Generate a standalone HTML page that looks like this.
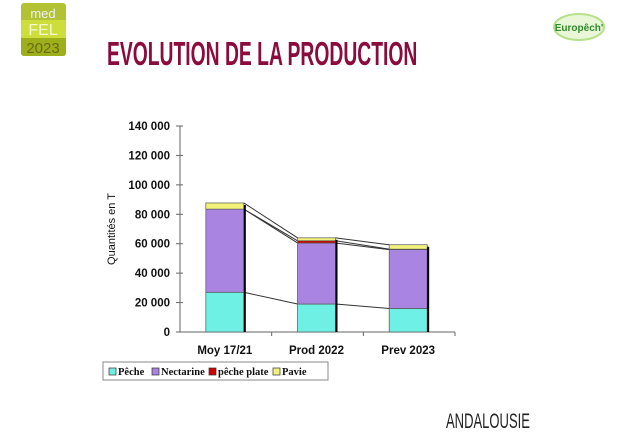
<!DOCTYPE html>
<html><head><meta charset="utf-8">
<style>
body{margin:0;width:625px;height:447px;background:#fff;overflow:hidden;position:relative;font-family:"Liberation Sans",sans-serif}
.logo{position:absolute;left:21px;top:3px;width:45px;height:53px;border-radius:3px;overflow:hidden}
.title{position:absolute;left:107px;top:35px;font-family:"Liberation Sans",sans-serif;font-weight:bold;font-size:33px;color:#8a0b3c;transform:scaleX(0.585);transform-origin:left top;white-space:nowrap}
.and{position:absolute;left:446px;top:410px;font-size:21px;color:#222;font-family:"Liberation Sans",sans-serif;transform:scaleX(0.62);transform-origin:left top;white-space:nowrap}
</style></head><body>
<div class="logo">
<svg width="45" height="53"><rect width="45" height="53" fill="#b3c233"/><rect y="17" width="45" height="18" fill="#cddd3c"/><rect y="35" width="45" height="18" fill="#9eaf1c"/>
<text x="22" y="15" font-size="13" fill="#eef" text-anchor="middle" font-family="Liberation Sans">med</text>
<text x="22" y="32" font-size="16" fill="#f4f8d0" text-anchor="middle" font-family="Liberation Sans">FEL</text>
<text x="22" y="50" font-size="15" fill="#6b6b10" text-anchor="middle" font-family="Liberation Sans">2023</text></svg></div>
<svg style="position:absolute;left:552px;top:10px" width="56" height="32"><ellipse cx="27" cy="17" rx="25" ry="13" fill="#eaf6d8" stroke="#b6e08a" stroke-width="2"/><text x="27" y="21" font-size="10" fill="#2f8a2a" text-anchor="middle" font-weight="bold">Europêch'</text></svg>
<div class="title">EVOLUTION DE LA PRODUCTION</div>
<div class="and">ANDALOUSIE</div>
<svg id="chart" style="position:absolute;left:0;top:0" width="625" height="447"></svg>
<script>
const categories=["Moy 17/21","Prod 2022","Prev 2023"];
const peche=[27000,19000,16000];
const nectarine=[56500,41500,40000];
const pechePlate=[0,1500,300];
const pavie=[4200,2000,3000];
const yTicks=[0,20000,40000,60000,80000,100000,120000,140000];
const yTickLabels=["0","20 000","40 000","60 000","80 000","100 000","120 000","140 000"];
const seriesNames=["Pêche","Nectarine","pêche plate","Pavie"];
const colors=["#6ff0e4","#a984e0","#d00000","#f2f27a"];
const NS="http://www.w3.org/2000/svg";
const svg=document.getElementById('chart');
const x0=180,x1=455,y0=332,yTop=126;
const y=v=>y0-(v/140000)*(y0-yTop);
const band=(x1-x0)/categories.length;
const cx=i=>x0+band*(i+0.5)-1;
const bw=38;
function mk(t,a){const e=document.createElementNS(NS,t);for(const k in a)e.setAttribute(k,a[k]);svg.appendChild(e);return e;}
let e=mk('line',{x1:x0,y1:yTop,x2:x0,y2:y0,stroke:'#666'});
e=mk('line',{x1:x0,y1:y0,x2:x1,y2:y0,stroke:'#666'});
yTicks.forEach((t,i)=>{mk('line',{x1:x0-4,y1:y(t),x2:x0+3,y2:y(t),stroke:'#666'});
 const tx=mk('text',{x:x0-10,y:y(t)+4,'text-anchor':'end','font-size':'11.5','font-weight':'bold',fill:'#111'});tx.textContent=yTickLabels[i];
 });
for(let i=1;i<=categories.length;i++)mk('line',{x1:x0+band*i,y1:y0,x2:x0+band*i,y2:y0+4,stroke:'#666'});
categories.forEach((c,i)=>{const t=mk('text',{x:cx(i),y:354,'text-anchor':'middle','font-size':'11.5','font-weight':'bold',fill:'#111'});t.textContent=c;
 });
let yt=mk('text',{x:0,y:0,'font-size':'11',fill:'#111',transform:'translate(115,229) rotate(-90)','text-anchor':'middle'});yt.textContent='Quantités en T';

const series=[peche,nectarine,pechePlate,pavie];
const cum=categories.map((_,i)=>{let s=0;return series.map(a=>s+=a[i]);});
for(let i=0;i<categories.length-1;i++){
 for(let s=0;s<series.length;s++){
  const l=mk('line',{x1:cx(i)+bw/2,y1:y(cum[i][s]),x2:cx(i+1)-bw/2,y2:y(cum[i+1][s]),stroke:'#333','stroke-width':'1'});
  
 }}
categories.forEach((c,i)=>{let base=0;
 series.forEach((a,s)=>{const v=a[i];if(v<=0){return;}
  const r=mk('rect',{x:cx(i)-bw/2,y:y(base+v),width:bw,height:y(base)-y(base+v),fill:colors[s],stroke:'#555','stroke-width':'0.7'});
  
  base+=v;});
 mk('line',{x1:cx(i)+bw/2+1,y1:y(cum[i][3])+2,x2:cx(i)+bw/2+1,y2:y0,stroke:'#000','stroke-width':'2'});
});
const lg=mk('rect',{x:103,y:362,width:225,height:18,fill:'#fff',stroke:'#888'});
const lx=[109,152,209,273];
seriesNames.forEach((n,s)=>{mk('rect',{x:lx[s],y:368,width:7,height:7,fill:colors[s],stroke:'#333','stroke-width':'0.7'});
 const t=mk('text',{x:lx[s]+9,y:375,'font-size':'10.5','font-weight':'bold','font-family':'Liberation Serif',fill:'#111'});t.textContent=n;
 });
</script>
</body></html>
